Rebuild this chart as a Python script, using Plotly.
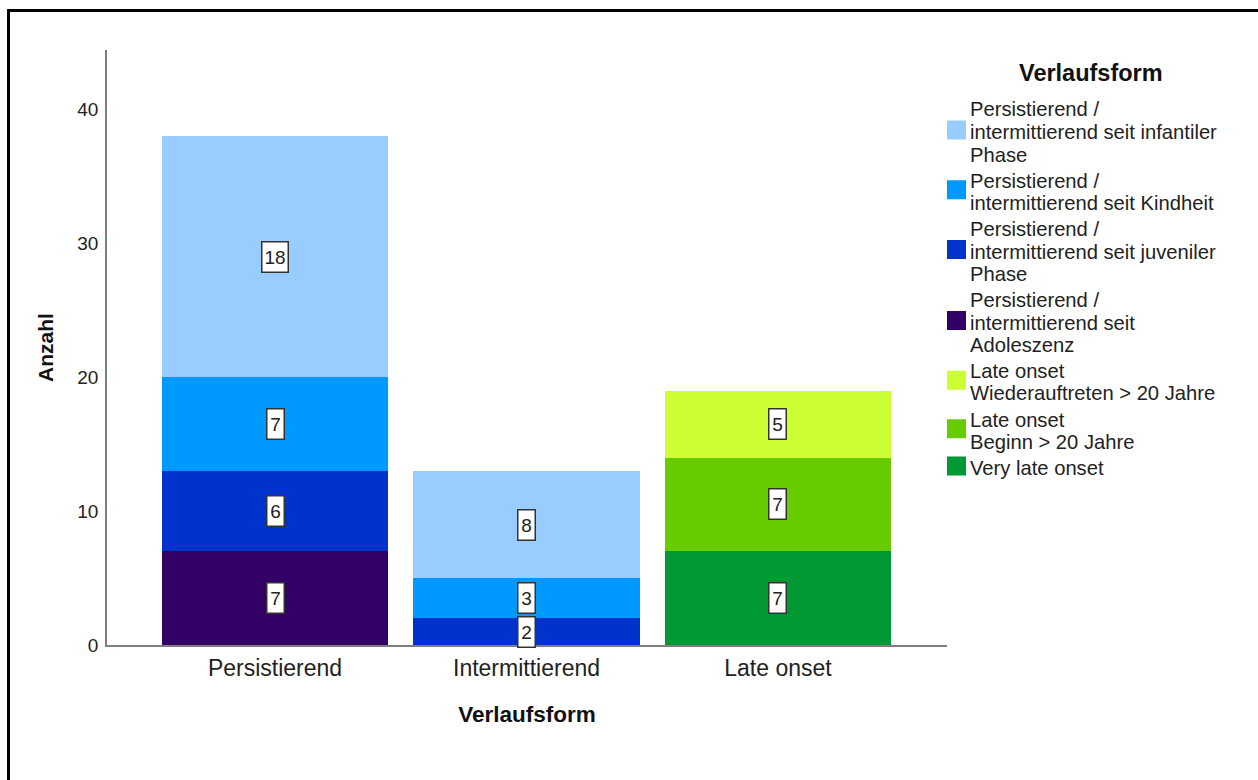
import plotly.graph_objects as go

# Categories on the x axis
categories = ["Persistierend", "Intermittierend", "Late onset"]

# Subgroups in stacking order (bottom to top), with counts per category
series_names = [
    "Persistierend /\nintermittierend seit\nAdoleszenz",
    "Persistierend /\nintermittierend seit juveniler\nPhase",
    "Persistierend /\nintermittierend seit Kindheit",
    "Persistierend /\nintermittierend seit infantiler\nPhase",
    "Very late onset",
    "Late onset\nBeginn > 20 Jahre",
    "Late onset\nWiederauftreten > 20 Jahre",
]
adoleszenz = [7, None, None]
juveniler = [6, 2, None]
kindheit = [7, 3, None]
infantiler = [18, 8, None]
very_late = [None, None, 7]
late_beginn = [None, None, 7]
late_wieder = [None, None, 5]
series_values = [adoleszenz, juveniler, kindheit, infantiler, very_late, late_beginn, late_wieder]

series_colors = ["#330066", "#0033CC", "#0099FF", "#99CCFF", "#009933", "#66CC00", "#CCFF33"]

# Order in which the legend lists the subgroups (indices into series_names)
legend_order = [3, 2, 1, 0, 6, 5, 4]

y_ticks = [0, 10, 20, 30, 40]

FONT = "Liberation Sans, Arial, sans-serif"
W, H = 1258, 780
L, R, T, B = 107, 311, 50, 135
PW, PH = W - L - R, H - T - B


def px_x(x):
    return (x - L) / PW


def px_y(y):
    return (H - B - y) / PH


fig = go.Figure()
for name, vals, col in zip(series_names, series_values, series_colors):
    fig.add_trace(go.Bar(
        x=categories, y=vals, name=name.replace("\n", " "),
        marker=dict(color=col, line=dict(width=0)),
        showlegend=False, hoverinfo="y+name",
    ))

# Boxed count labels centred in each stacked segment
base = [0, 0, 0]
for vals in series_values:
    for i, v in enumerate(vals):
        if v is None:
            continue
        label = str(v)
        fig.add_annotation(
            x=categories[i], y=base[i] + v / 2, xref="x", yref="y",
            text=label, showarrow=False,
            font=dict(family=FONT, size=19, color="#222"),
            width=13 + 9 * (len(label) - 1), height=26,
            bgcolor="white", bordercolor="#333", borderwidth=1.5, borderpad=1.5,
            xanchor="center", yanchor="middle",
        )
        base[i] += v

# Legend block on the right
fig.add_annotation(
    x=px_x(1091), y=px_y(73), xref="paper", yref="paper",
    text="<b>Verlaufsform</b>", showarrow=False,
    font=dict(family=FONT, size=23.5, color="#111"),
    xanchor="center", yanchor="middle",
)
line_gap, entry_gap = 22.5, 26
y_line = 109.5
for idx in legend_order:
    lines = series_names[idx].split("\n")
    first = y_line
    for ln in lines:
        fig.add_annotation(
            x=px_x(969), y=px_y(y_line), xref="paper", yref="paper",
            text=ln, showarrow=False, borderpad=0,
            font=dict(family=FONT, size=20.2, color="#222"),
            xanchor="left", yanchor="middle",
        )
        last = y_line
        y_line += line_gap
    mid = (first + last) / 2 - 2
    fig.add_shape(
        type="rect", xref="paper", yref="paper",
        x0=px_x(947), x1=px_x(966), y0=px_y(mid - 9.5), y1=px_y(mid + 9.5),
        fillcolor=series_colors[idx], line=dict(width=0),
    )
    y_line = last + entry_gap

# Outer frame
fig.add_shape(
    type="rect", xref="paper", yref="paper",
    x0=px_x(8.5), x1=px_x(W + 20), y0=px_y(10.5), y1=px_y(H + 20),
    line=dict(color="black", width=3), fillcolor="rgba(0,0,0,0)",
)

fig.update_layout(
    width=W, height=H,
    margin=dict(l=L, r=R, t=T, b=B, pad=0),
    paper_bgcolor="white", plot_bgcolor="white",
    barmode="stack", bargap=0.1,
    font=dict(family=FONT, color="#222"),
    showlegend=False,
    xaxis=dict(
        range=[-0.668, 2.672], showgrid=False, zeroline=False,
        showline=True, linecolor="#7f7f7f", linewidth=1.5,
        ticks="", ticklabelstandoff=2,
        tickfont=dict(family=FONT, size=23, color="#222"),
        title=dict(text="<b>Verlaufsform</b>", standoff=26,
                   font=dict(family=FONT, size=22.5, color="#111")),
    ),
    yaxis=dict(
        range=[0, 44.44], showgrid=False, zeroline=False,
        showline=True, linecolor="#7f7f7f", linewidth=1.5,
        tickvals=y_ticks, ticks="", ticklabelstandoff=3,
        tickfont=dict(family=FONT, size=19, color="#222"),
        title=dict(text="<b>Anzahl</b>", standoff=18,
                   font=dict(family=FONT, size=21, color="#111")),
    ),
)

fig.write_html("out.html")
